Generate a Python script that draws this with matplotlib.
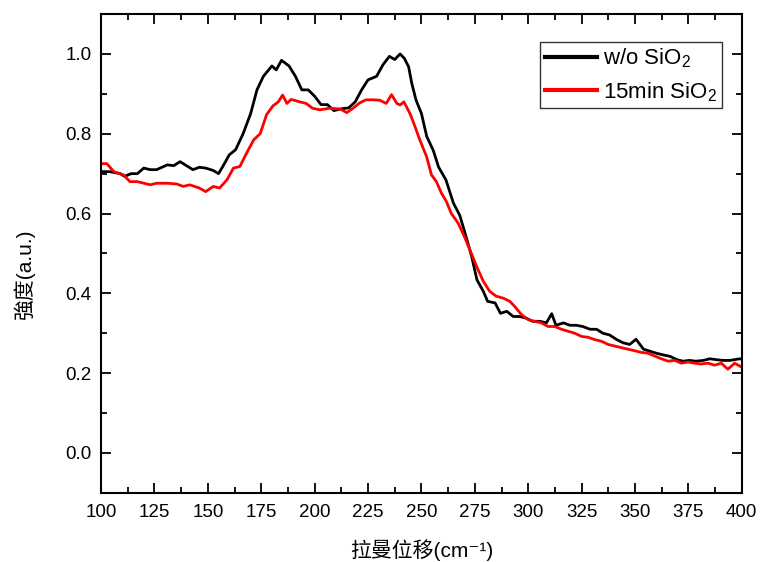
import numpy as np
import matplotlib
matplotlib.use("Agg")
import matplotlib.pyplot as plt
from matplotlib.ticker import MultipleLocator

plt.rcParams['font.family'] = ['Liberation Sans', 'Noto Sans CJK TC', 'DejaVu Sans']
plt.rcParams['mathtext.fontset'] = 'custom'
plt.rcParams['mathtext.rm'] = 'Liberation Sans'
plt.rcParams['mathtext.default'] = 'regular'

# Raman shift (cm-1) and intensity
shift_bare = [100, 104, 109, 111, 114, 117, 120, 123, 126, 131, 134, 137, 140, 143, 146,
              149, 152.5, 155, 157, 160, 163, 166.5, 170, 173, 176, 180, 182, 184.5, 188,
              191, 194, 197, 200, 203, 206, 209, 212, 216, 219, 222, 225, 229, 232, 235,
              237.5, 240, 242, 244, 245.5, 247.5, 250, 252.5, 255.5, 258, 261.5, 265, 268,
              271, 273.5, 276, 279, 281, 284.5, 287, 290, 293, 296, 299, 302, 305.5, 308.5,
              311, 313, 316.5, 319.5, 322.5, 325.5, 329, 332, 335, 338, 341.5, 344.5, 347.5,
              350.5, 354, 357, 360, 363, 366.5, 369.5, 372.5, 375.5, 378.5, 382, 385, 388,
              391, 394.5, 399, 400]
int_bare = [0.705, 0.705, 0.70, 0.693, 0.70, 0.70, 0.714, 0.71, 0.71, 0.722, 0.72, 0.73,
            0.72, 0.71, 0.716, 0.714, 0.708, 0.70, 0.718, 0.747, 0.76, 0.80, 0.85, 0.91,
            0.944, 0.97, 0.96, 0.984, 0.97, 0.944, 0.91, 0.91, 0.894, 0.873, 0.873, 0.858,
            0.862, 0.865, 0.88, 0.91, 0.935, 0.944, 0.973, 0.994, 0.986, 1.0, 0.989, 0.968,
            0.926, 0.884, 0.851, 0.793, 0.759, 0.717, 0.684, 0.626, 0.595, 0.54, 0.493,
            0.434, 0.405, 0.38, 0.376, 0.35, 0.355, 0.342, 0.342, 0.338, 0.33, 0.33, 0.326,
            0.349, 0.32, 0.326, 0.32, 0.32, 0.317, 0.31, 0.31, 0.30, 0.296, 0.284, 0.276,
            0.272, 0.285, 0.26, 0.255, 0.25, 0.246, 0.242, 0.234, 0.23, 0.232, 0.23, 0.232,
            0.236, 0.234, 0.232, 0.232, 0.236, 0.235]

shift_sio2 = [100, 102.7, 106, 110.5, 113.5, 117, 120, 123, 126, 131, 135.5, 138.5, 141.5,
              146, 149, 152.5, 155.5, 159, 162, 165, 168, 171.5, 174.5, 177.5, 180.5, 183,
              185, 187, 189, 193, 196, 199, 202.5, 207, 212, 215, 218, 221, 224, 227.5,
              230.5, 233.5, 236, 238.5, 240, 241.8, 244.6, 247, 249.3, 252.4, 254.7, 257,
              259.4, 261.7, 264, 267.2, 270.3, 273.4, 275.8, 279, 282, 285, 288.3, 291.4,
              293.7, 296.8, 300, 303, 306.2, 309.3, 312.4, 315.6, 318.7, 321.8, 325, 328,
              331.2, 334.3, 337.4, 340.5, 343.6, 346.8, 350, 353, 356, 359.2, 362.4, 365.5,
              368.6, 371.7, 374.8, 378, 381, 384.2, 387.3, 390.4, 393.5, 396.7, 400]
int_sio2 = [0.725, 0.725, 0.705, 0.697, 0.68, 0.68, 0.676, 0.672, 0.676, 0.676, 0.674,
            0.668, 0.672, 0.664, 0.655, 0.668, 0.664, 0.685, 0.714, 0.718, 0.75, 0.785,
            0.80, 0.848, 0.87, 0.88, 0.897, 0.876, 0.886, 0.88, 0.876, 0.864, 0.86, 0.864,
            0.862, 0.853, 0.864, 0.877, 0.885, 0.885, 0.884, 0.876, 0.898, 0.876, 0.872,
            0.88, 0.851, 0.818, 0.784, 0.743, 0.697, 0.68, 0.651, 0.63, 0.60, 0.576, 0.54,
            0.50, 0.468, 0.43, 0.405, 0.393, 0.388, 0.38, 0.367, 0.347, 0.334, 0.33, 0.326,
            0.317, 0.317, 0.31, 0.305, 0.30, 0.292, 0.29, 0.284, 0.28, 0.272, 0.268, 0.264,
            0.26, 0.256, 0.252, 0.25, 0.243, 0.236, 0.23, 0.232, 0.225, 0.228, 0.225,
            0.223, 0.225, 0.22, 0.225, 0.21, 0.225, 0.215]

series_labels = ['w/o SiO$_2$', '15min SiO$_2$']
x_ticks = [100, 125, 150, 175, 200, 225, 250, 275, 300, 325, 350, 375, 400]
y_ticks = [0.0, 0.2, 0.4, 0.6, 0.8, 1.0]

fig = plt.figure(figsize=(7.6, 5.62), dpi=100)
ax = fig.add_axes([0.133, 0.123, 0.843, 0.852])

ax.plot(shift_bare, int_bare, color='black', lw=2.0, label=series_labels[0])
ax.plot(shift_sio2, int_sio2, color='#ff0000', lw=2.0, label=series_labels[1])

ax.set_xlim(100, 400)
ax.set_ylim(-0.1, 1.1)
ax.set_xticks(x_ticks)
ax.set_yticks(y_ticks)
ax.set_yticklabels(['%.1f' % v for v in y_ticks])
ax.xaxis.set_minor_locator(MultipleLocator(12.5))
ax.yaxis.set_minor_locator(MultipleLocator(0.1))

for s in ax.spines.values():
    s.set_linewidth(1.5)
ax.tick_params(which='both', direction='in', top=True, right=True, width=1.3)
ax.tick_params(which='major', length=7, labelsize=13.5)
ax.tick_params(axis='y', which='major', pad=7)
ax.tick_params(axis='x', which='major', pad=8)
ax.tick_params(which='minor', length=4)

ax.set_xlabel('拉曼位移(cm⁻¹)', fontsize=15, labelpad=13)
ax.set_ylabel('強度(a.u.)', fontsize=15)
ax.yaxis.set_label_coords(-0.103, 0.455)

leg = ax.legend(loc='upper right', bbox_to_anchor=(0.969, 0.9415), fontsize=16,
                frameon=True, fancybox=False, borderaxespad=0, handlelength=2.35,
                handletextpad=0.3, borderpad=0.2, labelspacing=0.45)
leg.get_frame().set_edgecolor('black')
leg.get_frame().set_linewidth(1.0)
for line in leg.get_lines():
    line.set_linewidth(3.0)

fig.savefig('out.png', dpi=100)
